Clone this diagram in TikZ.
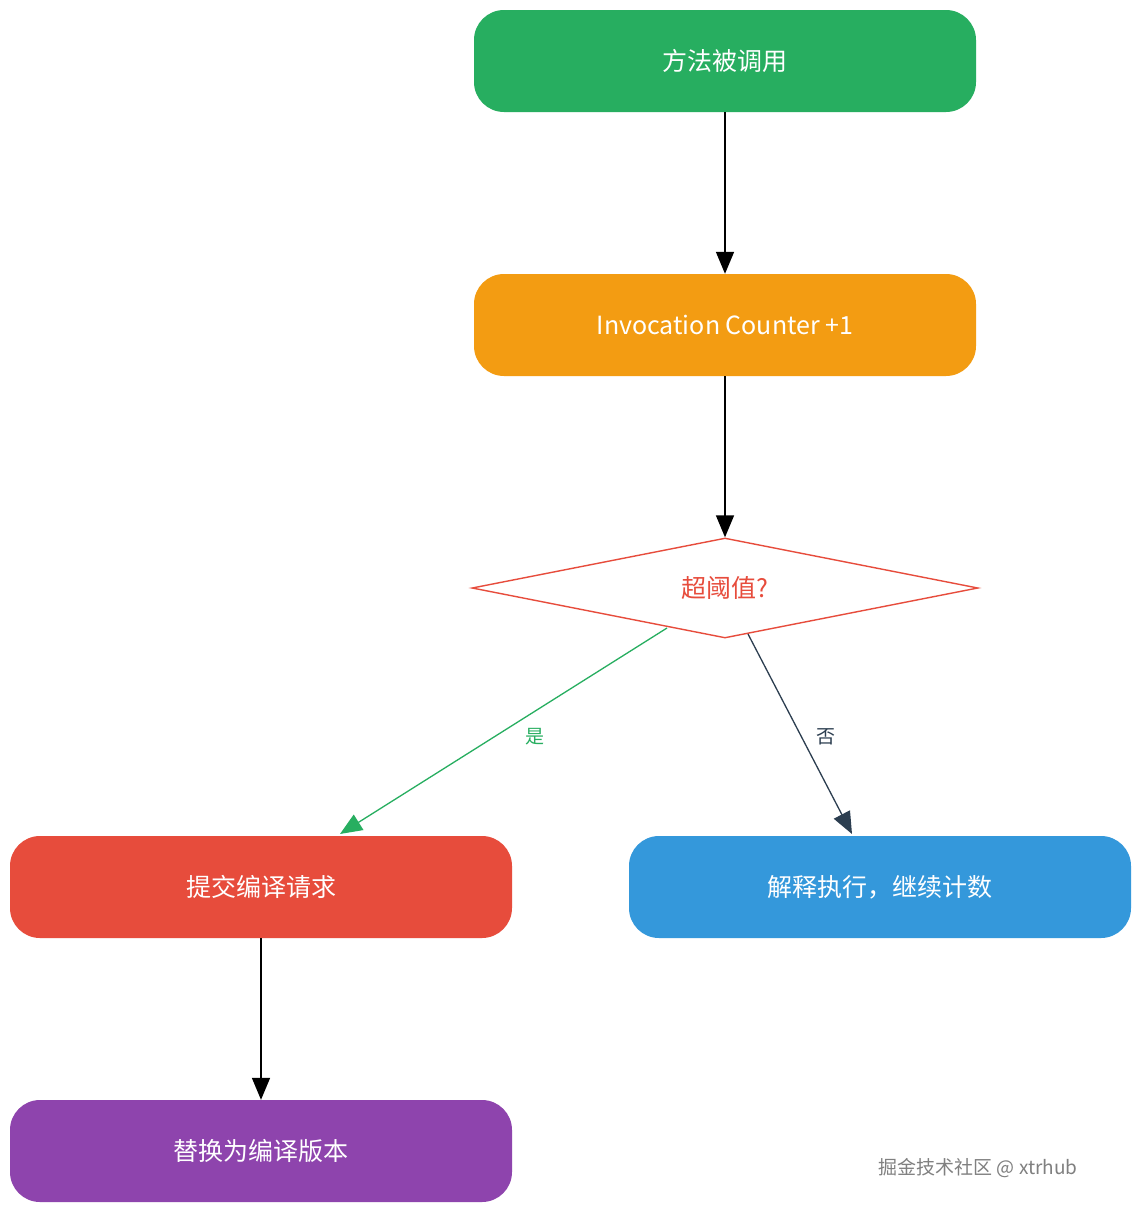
\documentclass[tikz,border=0pt]{standalone}
\usepackage{fontspec}
\setmainfont{Noto Sans CJK SC}
\usetikzlibrary{shapes.geometric,arrows.meta}
\begin{document}
\begin{tikzpicture}[x=1pt,y=-1pt,
  box/.style={rounded corners=30pt,minimum width=502pt,minimum height=102pt,text=white,font=\fontsize{25}{30}\selectfont,inner sep=0pt},
  arr/.style={line width=1.6pt,-{Triangle[length=22pt,width=18pt]}},
  lab/.style={font=\fontsize{19}{22}\selectfont}]
\fill[white] (0,0) rectangle (1142,1213);
\useasboundingbox (0,0) rectangle (1142,1213);
\definecolor{cg}{HTML}{27AE60}\definecolor{co}{HTML}{F39C12}\definecolor{cr}{HTML}{E74C3C}
\definecolor{cb}{HTML}{3498DB}\definecolor{cp}{HTML}{8E44AD}\definecolor{cd}{HTML}{2C3E50}
\node[box,fill=cg] (a) at (725,61) {方法被调用};
\node[box,fill=co] (b) at (725,325) {Invocation Counter +1};
\node[draw=cr,line width=1.4pt,diamond,minimum width=506pt,minimum height=100pt,inner sep=0pt,aspect=5,text=cr,font=\fontsize{25}{30}\selectfont] (c) at (725,588) {超阈值?};
\node[box,fill=cr] (d) at (261,887) {提交编译请求};
\node[box,fill=cb] (e) at (880,887) {解释执行，继续计数};
\node[box,fill=cp] (f) at (261,1151) {替换为编译版本};
\coordinate (c1) at (667,628); \coordinate (c2) at (748,634);
\coordinate (d1) at (340,834); \coordinate (e1) at (852,834);
\draw[arr] (a) -- (b);
\draw[arr] (b) -- (c);
\draw[arr,draw=cg,line width=1.3pt] (c1) -- (d1);
\draw[arr,draw=cd,line width=1.3pt] (c2) -- (e1);
\node[lab,text=cg] (l1) at (535,737) {是};
\node[lab,text=cd] (l2) at (826,737) {否};
\draw[arr] (d) -- (f);
\node[text=gray,font=\fontsize{19}{22}\selectfont] (w) at (978,1168) {掘金技术社区 @ xtrhub};
\end{tikzpicture}
\end{document}
